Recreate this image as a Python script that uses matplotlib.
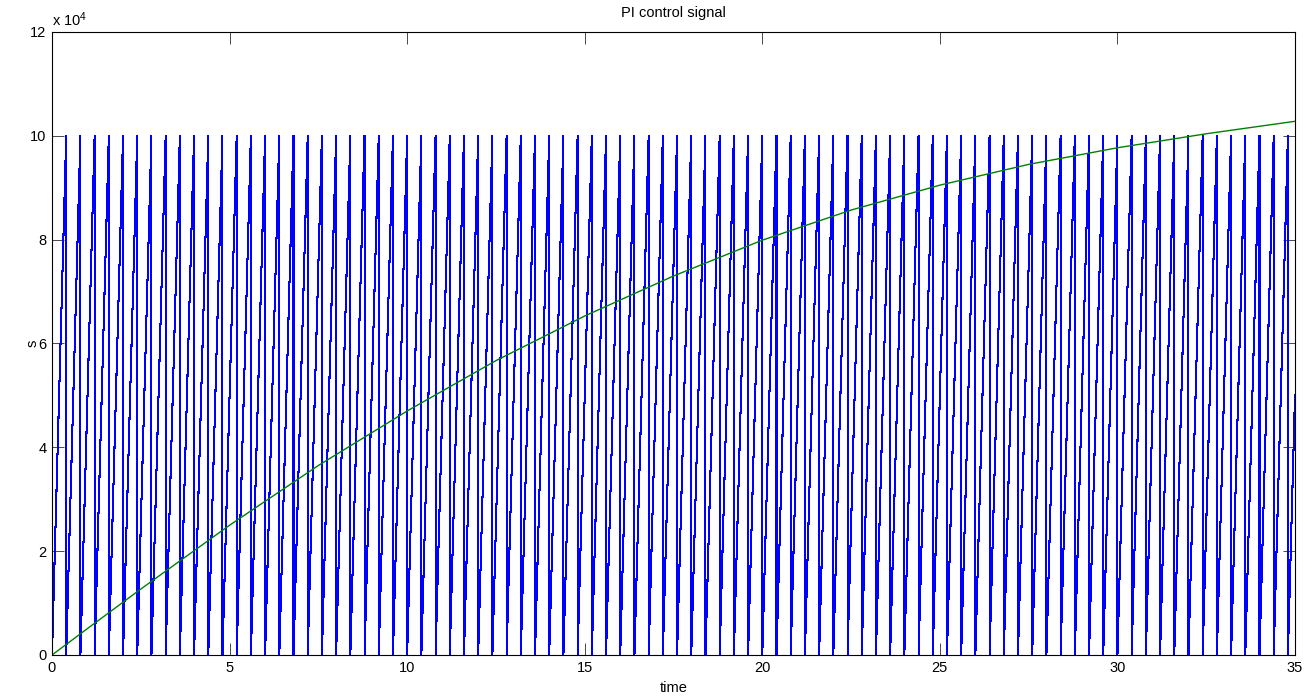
import numpy as np
import matplotlib.pyplot as plt

plt.rcParams['font.family'] = ['Liberation Sans', 'DejaVu Sans']
plt.rcParams['mathtext.fontset'] = 'custom'
plt.rcParams['mathtext.rm'] = 'Liberation Sans'
plt.rcParams['mathtext.it'] = 'Liberation Sans'

## DATA
# blue: sawtooth, one tooth ramps 0 -> 1e5 over 0.4 s then drops
tooth_t = [0.0, 0.4]
tooth_s = [0, 100000]
n_teeth = 88
t_end = 35.0

# green: slowly rising curve
green_t = [0, 1, 2.5, 5, 7.5, 10, 12.5, 15, 17.5, 20, 22.5, 25, 27.5, 30, 32.5, 35]
green_s = [0, 5100, 12700, 25000, 36500, 47000, 56700, 65300, 73000, 79900,
           85700, 90500, 94500, 97700, 100400, 102800]

xticks = [0, 5, 10, 15, 20, 25, 30, 35]
yticks = [0, 20000, 40000, 60000, 80000, 100000, 120000]
ytick_labels = ['0', '2', '4', '6', '8', '10', '12']

## build sawtooth from the tooth template
period = tooth_t[1] - tooth_t[0]
bt, bs = [], []
for k in range(n_teeth):
    t0 = k * period
    t1 = t0 + period
    if t1 <= t_end:
        bt += [t0 + tooth_t[0], t0 + tooth_t[1]]
        bs += [tooth_s[0], tooth_s[1]]
    else:
        frac = (t_end - t0) / period
        bt += [t0, t_end]
        bs += [tooth_s[0], tooth_s[0] + frac * (tooth_s[1] - tooth_s[0])]

## PLOT
fig = plt.figure(figsize=(13.12, 6.98), dpi=100)
ax = fig.add_axes([52/1312, 43/698, 1243/1312, 623/698])

ax.plot(bt, bs, color='#0000ff', lw=0.75, antialiased=False)
ax.plot(green_t, green_s, color='#008000', lw=1.0)

ax.set_xlim(0, 35)
ax.set_ylim(0, 120000)
ax.set_xticks(xticks)
ax.set_yticks(yticks)
ax.set_yticklabels(ytick_labels)
ax.tick_params(direction='in', length=8.6, width=0.5, top=True, right=True,
               labelsize=10.5, pad=4)
for sp in ax.spines.values():
    sp.set_linewidth(0.8)

ax.text(0, 1.005, r'x 10$^{4}$', transform=ax.transAxes, ha='left', va='bottom',
        fontsize=10.5)
ax.set_title('PI control signal', fontsize=10.5, pad=11)
ax.set_xlabel('time', fontsize=10.5, labelpad=5)
ax.set_ylabel('s', fontsize=10.5)
ax.yaxis.set_label_coords(-12/1243, 0.5)

plt.savefig('out.png', dpi=100)
